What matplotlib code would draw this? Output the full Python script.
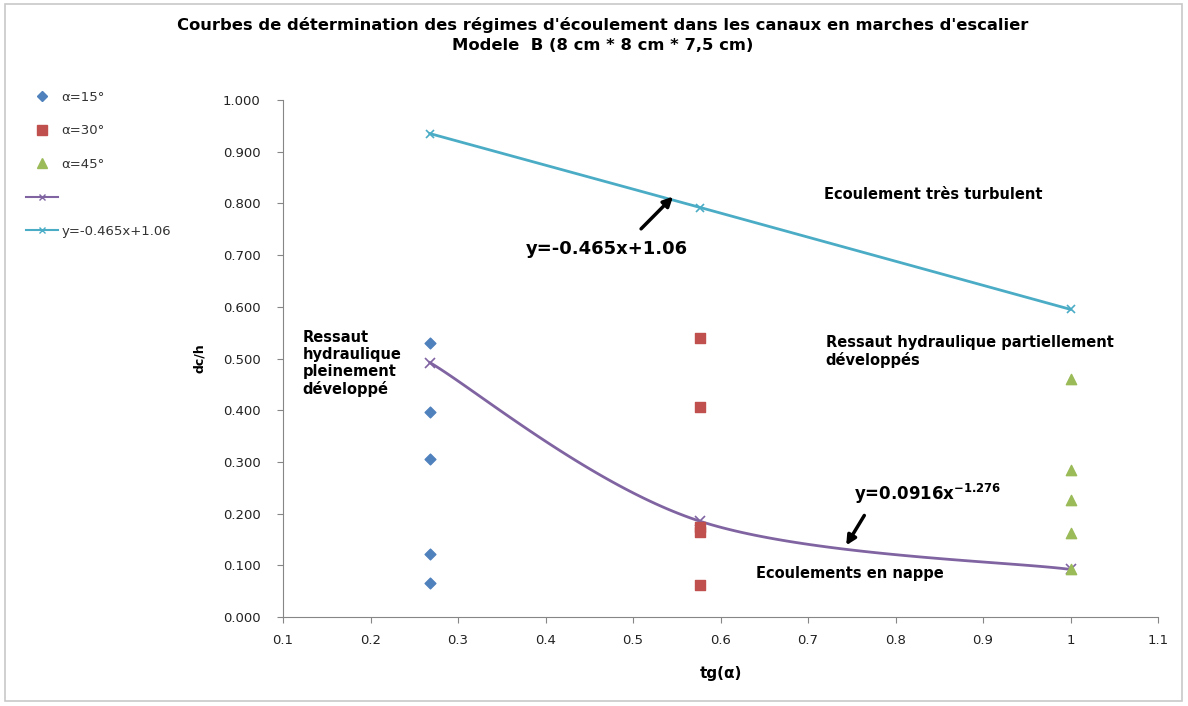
import numpy as np
import matplotlib
matplotlib.use("Agg")
import matplotlib.pyplot as plt
from matplotlib.lines import Line2D
from matplotlib.patches import Rectangle

# ---- data ----
x15 = [0.268] * 5
y15 = [0.530, 0.397, 0.306, 0.122, 0.065]
x30 = [0.577] * 5
y30 = [0.540, 0.407, 0.175, 0.165, 0.062]
x45 = [1.0] * 5
y45 = [0.460, 0.285, 0.227, 0.162, 0.093]
x_pow = [0.268, 0.577, 1.0]
y_pow = [0.492, 0.185, 0.092]
x_lin = [0.268, 0.577, 1.0]
y_lin = [0.935, 0.792, 0.595]
xticks = [0.1, 0.2, 0.3, 0.4, 0.5, 0.6, 0.7, 0.8, 0.9, 1.0, 1.1]
xticklabels = ["0.1", "0.2", "0.3", "0.4", "0.5", "0.6", "0.7", "0.8", "0.9", "1", "1.1"]
yticks = [0.0, 0.1, 0.2, 0.3, 0.4, 0.5, 0.6, 0.7, 0.8, 0.9, 1.0]

C15 = "#4F81BD"; C30 = "#C0504D"; C45 = "#9BBB59"; CPOW = "#8064A2"; CLIN = "#4BACC6"

W, H = 1188, 706
fig = plt.figure(figsize=(W/100, H/100), dpi=100)
ax = fig.add_axes([283/W, 1-617/H, (1158-283)/W, (617-100)/H])


def smooth(xs, ys, n=60):
    # Excel-like smoothed line: Catmull-Rom style cubic Bezier segments
    xs = np.asarray(xs, float); ys = np.asarray(ys, float)
    pts = np.column_stack([xs, ys])
    out = []
    for i in range(len(pts) - 1):
        p0 = pts[i - 1] if i > 0 else pts[i]
        p1 = pts[i]; p2 = pts[i + 1]
        p3 = pts[i + 2] if i + 2 < len(pts) else pts[i + 1]
        c1 = p1 + (p2 - p0) / 6.0
        c2 = p2 - (p3 - p1) / 6.0
        t = np.linspace(0, 1, n)[:, None]
        seg = (1-t)**3*p1 + 3*(1-t)**2*t*c1 + 3*(1-t)*t**2*c2 + t**3*p2
        out.append(seg if i == 0 else seg[1:])
    out = np.vstack(out)
    return out[:, 0], out[:, 1]

sx, sy = smooth(x_pow, y_pow)
ax.plot(sx, sy, color=CPOW, lw=2, zorder=2)
ax.plot(x_pow, y_pow, ls="none", marker="x", color=CPOW, ms=7, mew=1.2, zorder=3)
ax.plot(x_lin, y_lin, color=CLIN, lw=2, marker="x", ms=6, mew=1.2, zorder=3)

ax.scatter(x15, y15, marker="D", s=30, color=C15, zorder=4)
ax.scatter(x30, y30, marker="s", s=50, color=C30, zorder=4)
ax.scatter(x45, y45, marker="^", s=55, color=C45, zorder=4)

ax.set_xlim(0.1, 1.1)
ax.set_ylim(0, 1.0)
ax.set_xticks(xticks)
ax.set_xticklabels(xticklabels)
ax.set_yticks(yticks)
ax.set_yticklabels([f"{v:.3f}" for v in yticks])
for s in ["top", "right"]:
    ax.spines[s].set_visible(False)
for s in ["left", "bottom"]:
    ax.spines[s].set_color("#868686")
ax.tick_params(axis="both", colors="#868686", labelcolor="#222222", labelsize=9.5, length=4)
ax.tick_params(axis="y", pad=12)
ax.tick_params(axis="x", pad=8)

ax.set_xlabel("tg(α)", fontsize=11, fontweight="bold", labelpad=14)
ax.set_ylabel("dc/h", fontsize=9, fontweight="bold", labelpad=12)

fig.text(603/W, 1-25/H, "Courbes de détermination des régimes d'écoulement dans les canaux en marches d'escalier",
         ha="center", va="center", fontsize=11.8, fontweight="bold")
fig.text(603/W, 1-46/H, "Modele  B (8 cm * 8 cm * 7,5 cm)",
         ha="center", va="center", fontsize=11.8, fontweight="bold")

FS = 10.5
ax.text(0.47, 0.711, "y=-0.465x+1.06", fontsize=13, fontweight="bold", ha="center", va="center")
ax.annotate("", xy=(0.548, 0.817), xytext=(0.507, 0.747),
            arrowprops=dict(arrowstyle="-|>", color="black", lw=2.5, mutation_scale=14))
ax.text(0.718, 0.817, "Ecoulement très turbulent", fontsize=FS, fontweight="bold", va="center")
ax.text(0.122, 0.555, "Ressaut\nhydraulique\npleinement\ndéveloppé", fontsize=FS, fontweight="bold",
        va="top", linespacing=1.15)
ax.text(0.72, 0.545, "Ressaut hydraulique partiellement\ndéveloppés", fontsize=FS, fontweight="bold",
        va="top", linespacing=1.15)
ax.text(0.753, 0.238, r"y=0.0916x$^{\mathbf{-1.276}}$", fontsize=12, fontweight="bold", va="center")
ax.annotate("", xy=(0.742, 0.134), xytext=(0.766, 0.201),
            arrowprops=dict(arrowstyle="-|>", color="black", lw=2.5, mutation_scale=14))
ax.text(0.64, 0.084, "Ecoulements en nappe", fontsize=FS, fontweight="bold", va="center")

handles = [
    Line2D([], [], ls="none", marker="D", color=C15, ms=5),
    Line2D([], [], ls="none", marker="s", color=C30, ms=6.5),
    Line2D([], [], ls="none", marker="^", color=C45, ms=6.5),
    Line2D([], [], color=CPOW, marker="x", ms=5, lw=1.5),
    Line2D([], [], color=CLIN, marker="x", ms=5, lw=1.5),
]
labels = ["α=15°", "α=30°", "α=45°", "", "y=-0.465x+1.06"]
fig.legend(handles, labels, loc="upper left", bbox_to_anchor=(14/W, 1-79/H), frameon=False,
           fontsize=9.5, labelspacing=1.55, handlelength=2.4, handletextpad=0.3,
           labelcolor="#333333")

fig.add_artist(Rectangle((5/W, 5/H), (W-11)/W, (H-9)/H, transform=fig.transFigure,
                         fill=False, edgecolor="#c8c8c8", lw=1.2))

fig.savefig("out.png", dpi=100)
